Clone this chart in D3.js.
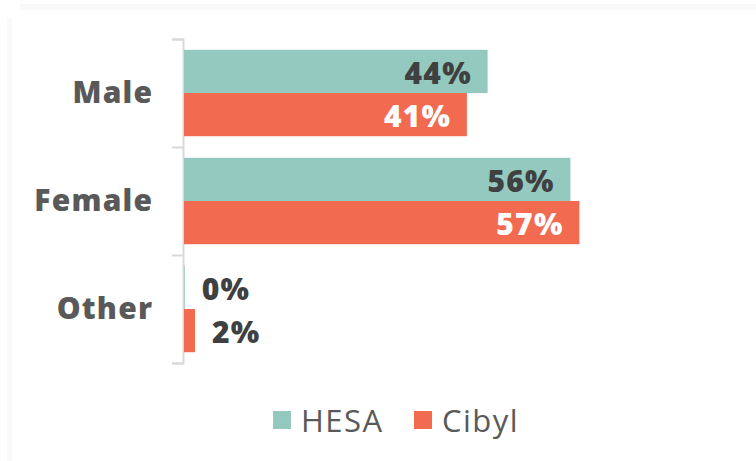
<!DOCTYPE html>
<html><head><meta charset="utf-8">
<script src="https://cdn.jsdelivr.net/npm/d3@7"></script>
<style>
html,body{margin:0;padding:0;background:#fff;}
svg{display:block;}
text{font-family:"Open Sans",sans-serif;}
</style></head>
<body>
<svg id="chart" width="756" height="461"></svg>
<script>
const categories = ["Male", "Female", "Other"];
const seriesNames = ["HESA", "Cibyl"];
const hesaValues = [44.0, 56.0, 0.1];
const cibylValues = [41.0, 57.3, 1.6];
const hesaLabels = ["44%", "56%", "0%"];
const cibylLabels = ["41%", "57%", "2%"];
const colors = ["#93c9bf", "#f26a50"];

const svg = d3.select("#chart");
// faint frame
svg.append("rect").attr("x", 20).attr("y", 4).attr("width", 736).attr("height", 6).attr("fill", "#f9f9f9");
svg.append("rect").attr("x", 7).attr("y", 18).attr("width", 5).attr("height", 443).attr("fill", "#fafafa");

const x0 = 184;
const x = d3.scaleLinear().domain([0, 100]).range([x0, x0 + 690]);
const y = d3.scaleBand().domain(categories).range([39, 363]).paddingInner(0.2).paddingOuter(0.1);
const yIn = d3.scaleBand().domain(seriesNames).range([0, y.bandwidth()]);

// axis
const axis = d3.axisLeft(d3.scaleLinear().domain([0, 3]).range([39, 363]))
  .ticks(3).tickSize(11).tickFormat("");
const ag = svg.append("g").attr("transform", `translate(${x0 - 1},0)`).call(axis);
ag.select(".domain").attr("stroke", "#d9d9d9").attr("stroke-width", 2);
ag.selectAll(".tick line").attr("stroke", "#d9d9d9").attr("stroke-width", 2);

const LS = 1.2;
// category labels
svg.append("g").selectAll("text").data(categories).join("text")
  .attr("x", 152 + LS).attr("y", d => y(d) + y.bandwidth() / 2 - 2)
  .attr("text-anchor", "end").attr("dominant-baseline", "central")
  .attr("font-size", 30).attr("font-weight", 800).attr("fill", "#595959")
  .attr("letter-spacing", LS)
  .text(d => d);

const rows = [];
categories.forEach((c, i) => {
  rows.push({cat: c, s: "HESA", v: hesaValues[i], lab: hesaLabels[i], color: colors[0], inColor: "#404040"});
  rows.push({cat: c, s: "Cibyl", v: cibylValues[i], lab: cibylLabels[i], color: colors[1], inColor: "#ffffff"});
});

svg.append("g").selectAll("rect").data(rows).join("rect")
  .attr("x", x(0)).attr("y", d => y(d.cat) + yIn(d.s))
  .attr("width", d => x(d.v) - x(0)).attr("height", yIn.bandwidth())
  .attr("fill", d => d.color);

const inside = d => (x(d.v) - x(0) > 60);
svg.append("g").selectAll("text").data(rows).join("text")
  .attr("x", d => inside(d) ? x(d.v) - 17 + LS : x(d.v) + 17)
  .attr("text-anchor", d => inside(d) ? "end" : "start")
  .attr("y", d => y(d.cat) + yIn(d.s) + yIn.bandwidth() / 2 + 1)
  .attr("dominant-baseline", "central")
  .attr("font-size", 30).attr("font-weight", 800)
  .attr("letter-spacing", LS)
  .attr("fill", d => inside(d) ? d.inColor : "#404040")
  .text(d => d.lab);

// legend
const legendX = [273, 414];
const lg = svg.append("g").selectAll("g").data(seriesNames).join("g")
  .attr("transform", (d, i) => `translate(${legendX[i]},411)`);
lg.append("rect").attr("width", 18).attr("height", 18).attr("fill", (d, i) => colors[i]);
lg.append("text").attr("x", 28).attr("y", 9).attr("dominant-baseline", "central")
  .attr("font-size", 31).attr("letter-spacing", 1.5).attr("fill", "#595959").text(d => d);
</script>
</body></html>
